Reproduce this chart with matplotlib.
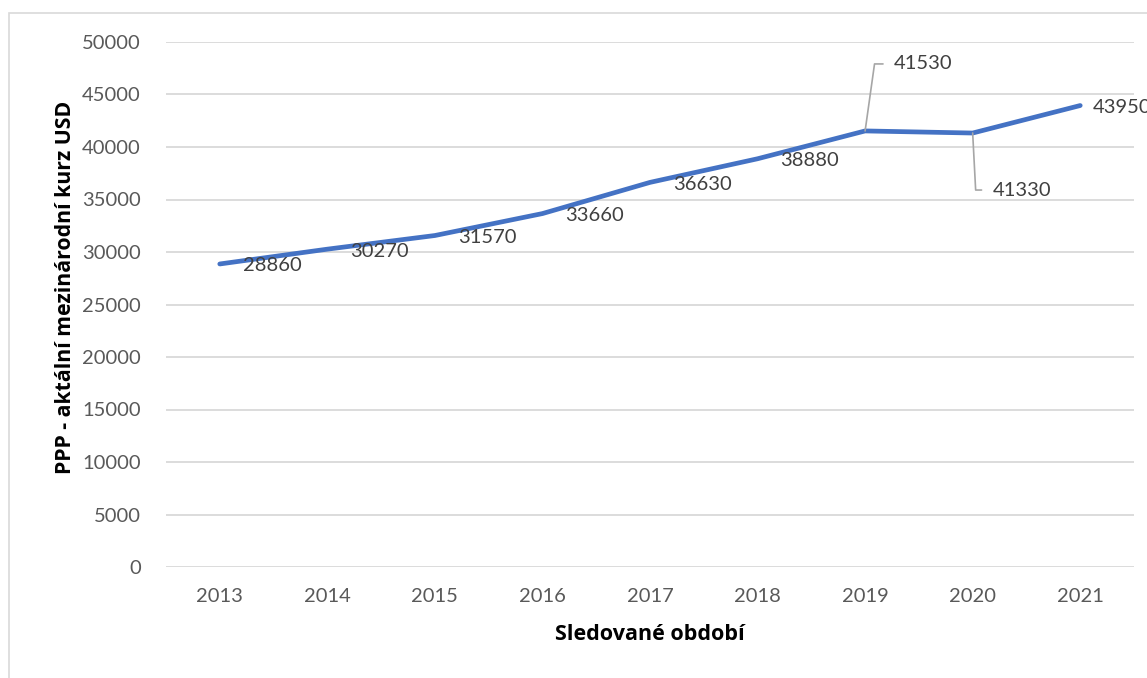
import matplotlib
matplotlib.use("Agg")
import matplotlib.pyplot as plt
from matplotlib.patches import Rectangle

years = ["2013", "2014", "2015", "2016", "2017", "2018", "2019", "2020", "2021"]
values = [28860, 30270, 31570, 33660, 36630, 38880, 41530, 41330, 43950]
yticks = [0, 5000, 10000, 15000, 20000, 25000, 30000, 35000, 40000, 45000, 50000]

plt.rcParams['font.family'] = ['Lato', 'DejaVu Sans']

W, H = 1147, 678
fig = plt.figure(figsize=(W / 100, H / 100), dpi=100)
fig.patches.append(Rectangle((9 / W, -0.1), 1.2, 1.1 - 13 / H, transform=fig.transFigure,
                             fill=False, edgecolor='#d9d9d9', linewidth=1.2, zorder=0))

ax = fig.add_axes([166 / W, 1 - 567 / H, (1134 - 166) / W, (567 - 42) / H])
x = list(range(len(years)))
ax.plot(x, values, color='#4472C4', linewidth=3.4, solid_capstyle='round', zorder=3, clip_on=False)

ax.set_xlim(-0.5, len(years) - 0.5)
ax.set_ylim(0, 50000)
ax.set_yticks(yticks)
ax.set_yticklabels([str(v) for v in yticks])
ax.set_xticks(x)
ax.set_xticklabels(years)
ax.grid(axis='y', color='#d9d9d9', linewidth=1.3)
ax.set_axisbelow(True)
for s in ax.spines.values():
    s.set_visible(False)
ax.tick_params(axis='both', length=0, labelsize=14.5, labelcolor='#595959')
ax.tick_params(axis='y', pad=18)
ax.tick_params(axis='x', pad=15)

title_font = ['Open Sans', 'DejaVu Sans']
ax.set_xlabel("Sledované období", fontsize=15.5, fontweight='bold', color='black', labelpad=14,
              family=title_font)
ax.set_ylabel("PPP - aktální mezinárodní kurz USD", fontsize=15.3, fontweight='bold', color='black',
              family=title_font)
ax.yaxis.set_label_coords(-0.093, 0.533)

lab_kw = dict(ha='left', va='center', fontsize=14.5, color='#404040', annotation_clip=False)
for i, v in enumerate(values):
    yr = years[i]
    if yr == "2019":
        ax.annotate(str(v), xy=(i, v), xytext=(29, 67), textcoords='offset pixels',
                    arrowprops=dict(arrowstyle='-', color='#a6a6a6', linewidth=1.2,
                                    connectionstyle='angle,angleA=0,angleB=82,rad=0',
                                    shrinkA=6, shrinkB=0, relpos=(0, 0.5)), **lab_kw)
    elif yr == "2020":
        ax.annotate(str(v), xy=(i, v), xytext=(20, -57), textcoords='offset pixels',
                    arrowprops=dict(arrowstyle='-', color='#a6a6a6', linewidth=1.2,
                                    connectionstyle='angle,angleA=0,angleB=-87,rad=0',
                                    shrinkA=6, shrinkB=0, relpos=(0, 0.5)), **lab_kw)
    elif yr == "2021":
        ax.annotate(str(v), xy=(i, v), xytext=(13, -2), textcoords='offset pixels', **lab_kw)
    else:
        ax.annotate(str(v), xy=(i, v), xytext=(23, -2), textcoords='offset pixels', **lab_kw)

fig.savefig("out.png", dpi=100)
